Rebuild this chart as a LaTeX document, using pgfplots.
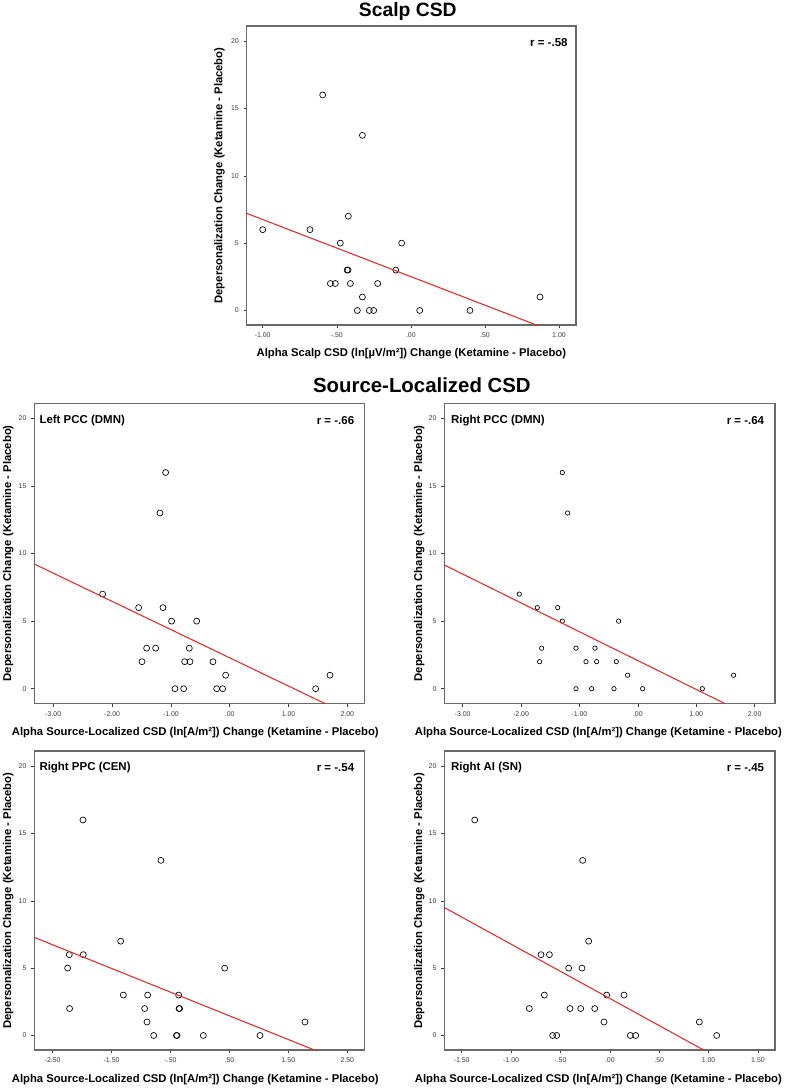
\documentclass[border=0pt]{standalone}
\usepackage{fontspec}
\setmainfont{Liberation Sans}
\usepackage{pgfplots}
\pgfplotsset{compat=1.18}
\definecolor{framegray}{RGB}{105,105,105}
\definecolor{fitred}{RGB}{222,45,45}
\definecolor{ticktext}{RGB}{60,60,60}
\pgfplotsset{
  panel/.style={
    scale only axis,
    anchor=south west,
    axis line style={draw=framegray, line width=0.9pt},
    ymin=-1.08, ymax=21.12,
    ytick={0,5,10,15,20}, yticklabels={0,5,10,15,20},
    tick pos=left, tick align=outside,
    major tick length=2.4pt,
    tick style={draw=ticktext, line width=0.4pt},
    tick label style={font=\fontsize{5.2}{6}\selectfont, text=ticktext},
    clip mode=individual,
  },
  pts/.style={only marks, mark=o, mark size=2.25pt, mark options={draw=black, line width=0.5pt}},
  fit/.style={no marks, draw=fitred, line width=0.8pt},
}
\newcommand{\lab}{\fontsize{8.45}{10}\selectfont\bfseries}
\newcommand{\ann}{\fontsize{8.6}{10}\selectfont\bfseries}
\begin{document}
\begin{tikzpicture}
\useasboundingbox (0,0) rectangle (590.25pt,-816.75pt);
% titles
\node[anchor=base, font=\fontsize{14.5}{17}\selectfont\bfseries] at (407.8*0.75pt,-16*0.75pt) {Scalp CSD};
\node[anchor=base, font=\fontsize{15.3}{18}\selectfont\bfseries] at (421.9*0.75pt,-392.7*0.75pt) {Source-Localized CSD};

% ---------------- Scalp CSD
\begin{axis}[panel, at={(185.025pt,-243.75pt)}, width=246.98pt, height=224.25pt,
  xmin=-1.108, xmax=1.115,
  xtick={-1,-0.5,0,0.5,1}, xticklabels={-1.00,-.50,.00,.50,1.00}]
\addplot[pts] coordinates {
(-0.595,16) (-0.327,13) (-1.000,6) (-0.681,6) (-0.422,7) (-0.476,5) (-0.062,5)
(-0.430,3) (-0.424,3) (-0.102,3) (-0.543,2) (-0.510,2) (-0.408,2) (-0.224,2)
(-0.327,1) (0.872,1) (-0.361,0) (-0.280,0) (-0.251,0) (0.060,0) (0.399,0)};
\addplot[fit] coordinates {(-1.15,7.39) (0.86,-1.13)};
\node[anchor=east, inner sep=0pt, font=\ann] at (axis description cs:0.975,0.943) {r = -.58};
\node[font=\lab] at (axis description cs:0.5,-0.097) {Alpha Scalp CSD (ln[µV/m²]) Change (Ketamine - Placebo)};
\node[font=\lab, rotate=90] at (axis description cs:-0.083,0.5) {Depersonalization Change (Ketamine - Placebo)};
\end{axis}

% ---------------- Left PCC
\begin{axis}[panel, at={(25.725pt,-527.475pt)}, width=247.5pt, height=225pt,
  xmin=-3.323, xmax=2.289,
  xtick={-3,-2,-1,0,1,2}, xticklabels={-3.00,-2.00,-1.00,.00,1.00,2.00}]
\addplot[pts] coordinates {
(-1.090,16) (-1.186,13) (-2.161,7) (-1.549,6) (-1.135,6) (-0.988,5) (-0.562,5)
(-1.413,3) (-1.260,3) (-0.687,3) (-1.492,2) (-0.766,2) (-0.676,2) (-0.285,2)
(-0.069,1) (1.705,1) (-0.931,0) (-0.783,0) (-0.222,0) (-0.120,0) (1.462,0)};
\addplot[fit] coordinates {(-3.4,9.39) (1.65,-1.16)};
\node[anchor=west, inner sep=0pt, font=\ann] at (axis description cs:0.015,0.944) {Left PCC (DMN)};
\node[anchor=east, inner sep=0pt, font=\ann] at (axis description cs:0.970,0.944) {r = -.66};
\node[font=\lab] at (axis description cs:0.488,-0.098) {Alpha Source-Localized CSD (ln[A/m²]) Change (Ketamine - Placebo)};
\node[font=\lab, rotate=90] at (axis description cs:-0.079,0.5) {Depersonalization Change (Ketamine - Placebo)};
\end{axis}

% ---------------- Right PCC
\begin{axis}[panel, at={(333.225pt,-527.475pt)}, width=248pt, height=225pt,
  xmin=-3.314, xmax=2.348,
  xtick={-3,-2,-1,0,1,2}, xticklabels={-3.00,-2.00,-1.00,.00,1.00,2.00}]
\addplot[pts, mark size=1.65pt] coordinates {
(-1.293,16) (-1.202,13) (-2.030,7) (-1.721,6) (-1.373,6) (-1.293,5) (-0.329,5)
(-1.647,3) (-1.059,3) (-0.734,3) (-1.682,2) (-0.888,2) (-0.705,2) (-0.369,2)
(-0.175,1) (1.640,1) (-1.059,0) (-0.791,0) (-0.409,0) (0.082,0) (1.104,0)};
\addplot[fit] coordinates {(-3.4,9.34) (1.5,-1.12)};
\node[anchor=west, inner sep=0pt, font=\ann] at (axis description cs:0.02,0.944) {Right PCC (DMN)};
\node[anchor=east, inner sep=0pt, font=\ann] at (axis description cs:0.968,0.944) {r = -.64};
\node[font=\lab] at (axis description cs:0.466,-0.098) {Alpha Source-Localized CSD (ln[A/m²]) Change (Ketamine - Placebo)};
\node[font=\lab, rotate=90] at (axis description cs:-0.076,0.5) {Depersonalization Change (Ketamine - Placebo)};
\end{axis}

% ---------------- Right PPC
\begin{axis}[panel, at={(25.725pt,-787.5pt)}, width=247.5pt, height=224.25pt,
  xmin=-2.811, xmax=2.788,
  xtick={-2.5,-1.5,-0.5,0.5,1.5,2.5}, xticklabels={-2.50,-1.50,-.50,.50,1.50,2.50}]
\addplot[pts] coordinates {
(-1.985,16) (-0.662,13) (-1.346,7) (-2.217,6) (-1.980,6) (-2.245,5) (0.419,5)
(-1.301,3) (-0.888,3) (-0.362,3) (-2.212,2) (-0.939,2) (-0.356,2) (-0.346,2)
(-0.899,1) (1.782,1) (-0.786,0) (-0.401,0) (-0.391,0) (0.057,0) (1.018,0)};
\addplot[fit] coordinates {(-2.9,7.44) (1.96,-1.11)};
\node[anchor=west, inner sep=0pt, font=\ann] at (axis description cs:0.015,0.944) {Right PPC (CEN)};
\node[anchor=east, inner sep=0pt, font=\ann] at (axis description cs:0.970,0.944) {r = -.54};
\node[font=\lab] at (axis description cs:0.488,-0.098) {Alpha Source-Localized CSD (ln[A/m²]) Change (Ketamine - Placebo)};
\node[font=\lab, rotate=90] at (axis description cs:-0.079,0.5) {Depersonalization Change (Ketamine - Placebo)};
\end{axis}

% ---------------- Right AI
\begin{axis}[panel, at={(333.225pt,-787.5pt)}, width=248pt, height=224.25pt,
  xmin=-1.676, xmax=1.672,
  xtick={-1.5,-1,-0.5,0,0.5,1,1.5}, xticklabels={-1.50,-1.00,-.50,.00,.50,1.00,1.50}]
\addplot[pts] coordinates {
(-1.368,16) (-0.275,13) (-0.214,7) (-0.697,6) (-0.612,6) (-0.417,5) (-0.282,5)
(-0.663,3) (-0.032,3) (0.144,3) (-0.815,2) (-0.403,2) (-0.295,2) (-0.153,2)
(-0.059,1) (0.906,1) (-0.579,0) (-0.538,0) (0.208,0) (0.262,0) (1.082,0)};
\addplot[fit] coordinates {(-1.75,9.80) (0.96,-1.12)};
\node[anchor=west, inner sep=0pt, font=\ann] at (axis description cs:0.02,0.944) {Right AI (SN)};
\node[anchor=east, inner sep=0pt, font=\ann] at (axis description cs:0.968,0.944) {r = -.45};
\node[font=\lab] at (axis description cs:0.466,-0.098) {Alpha Source-Localized CSD (ln[A/m²]) Change (Ketamine - Placebo)};
\node[font=\lab, rotate=90] at (axis description cs:-0.076,0.5) {Depersonalization Change (Ketamine - Placebo)};
\end{axis}
\end{tikzpicture}
\end{document}
